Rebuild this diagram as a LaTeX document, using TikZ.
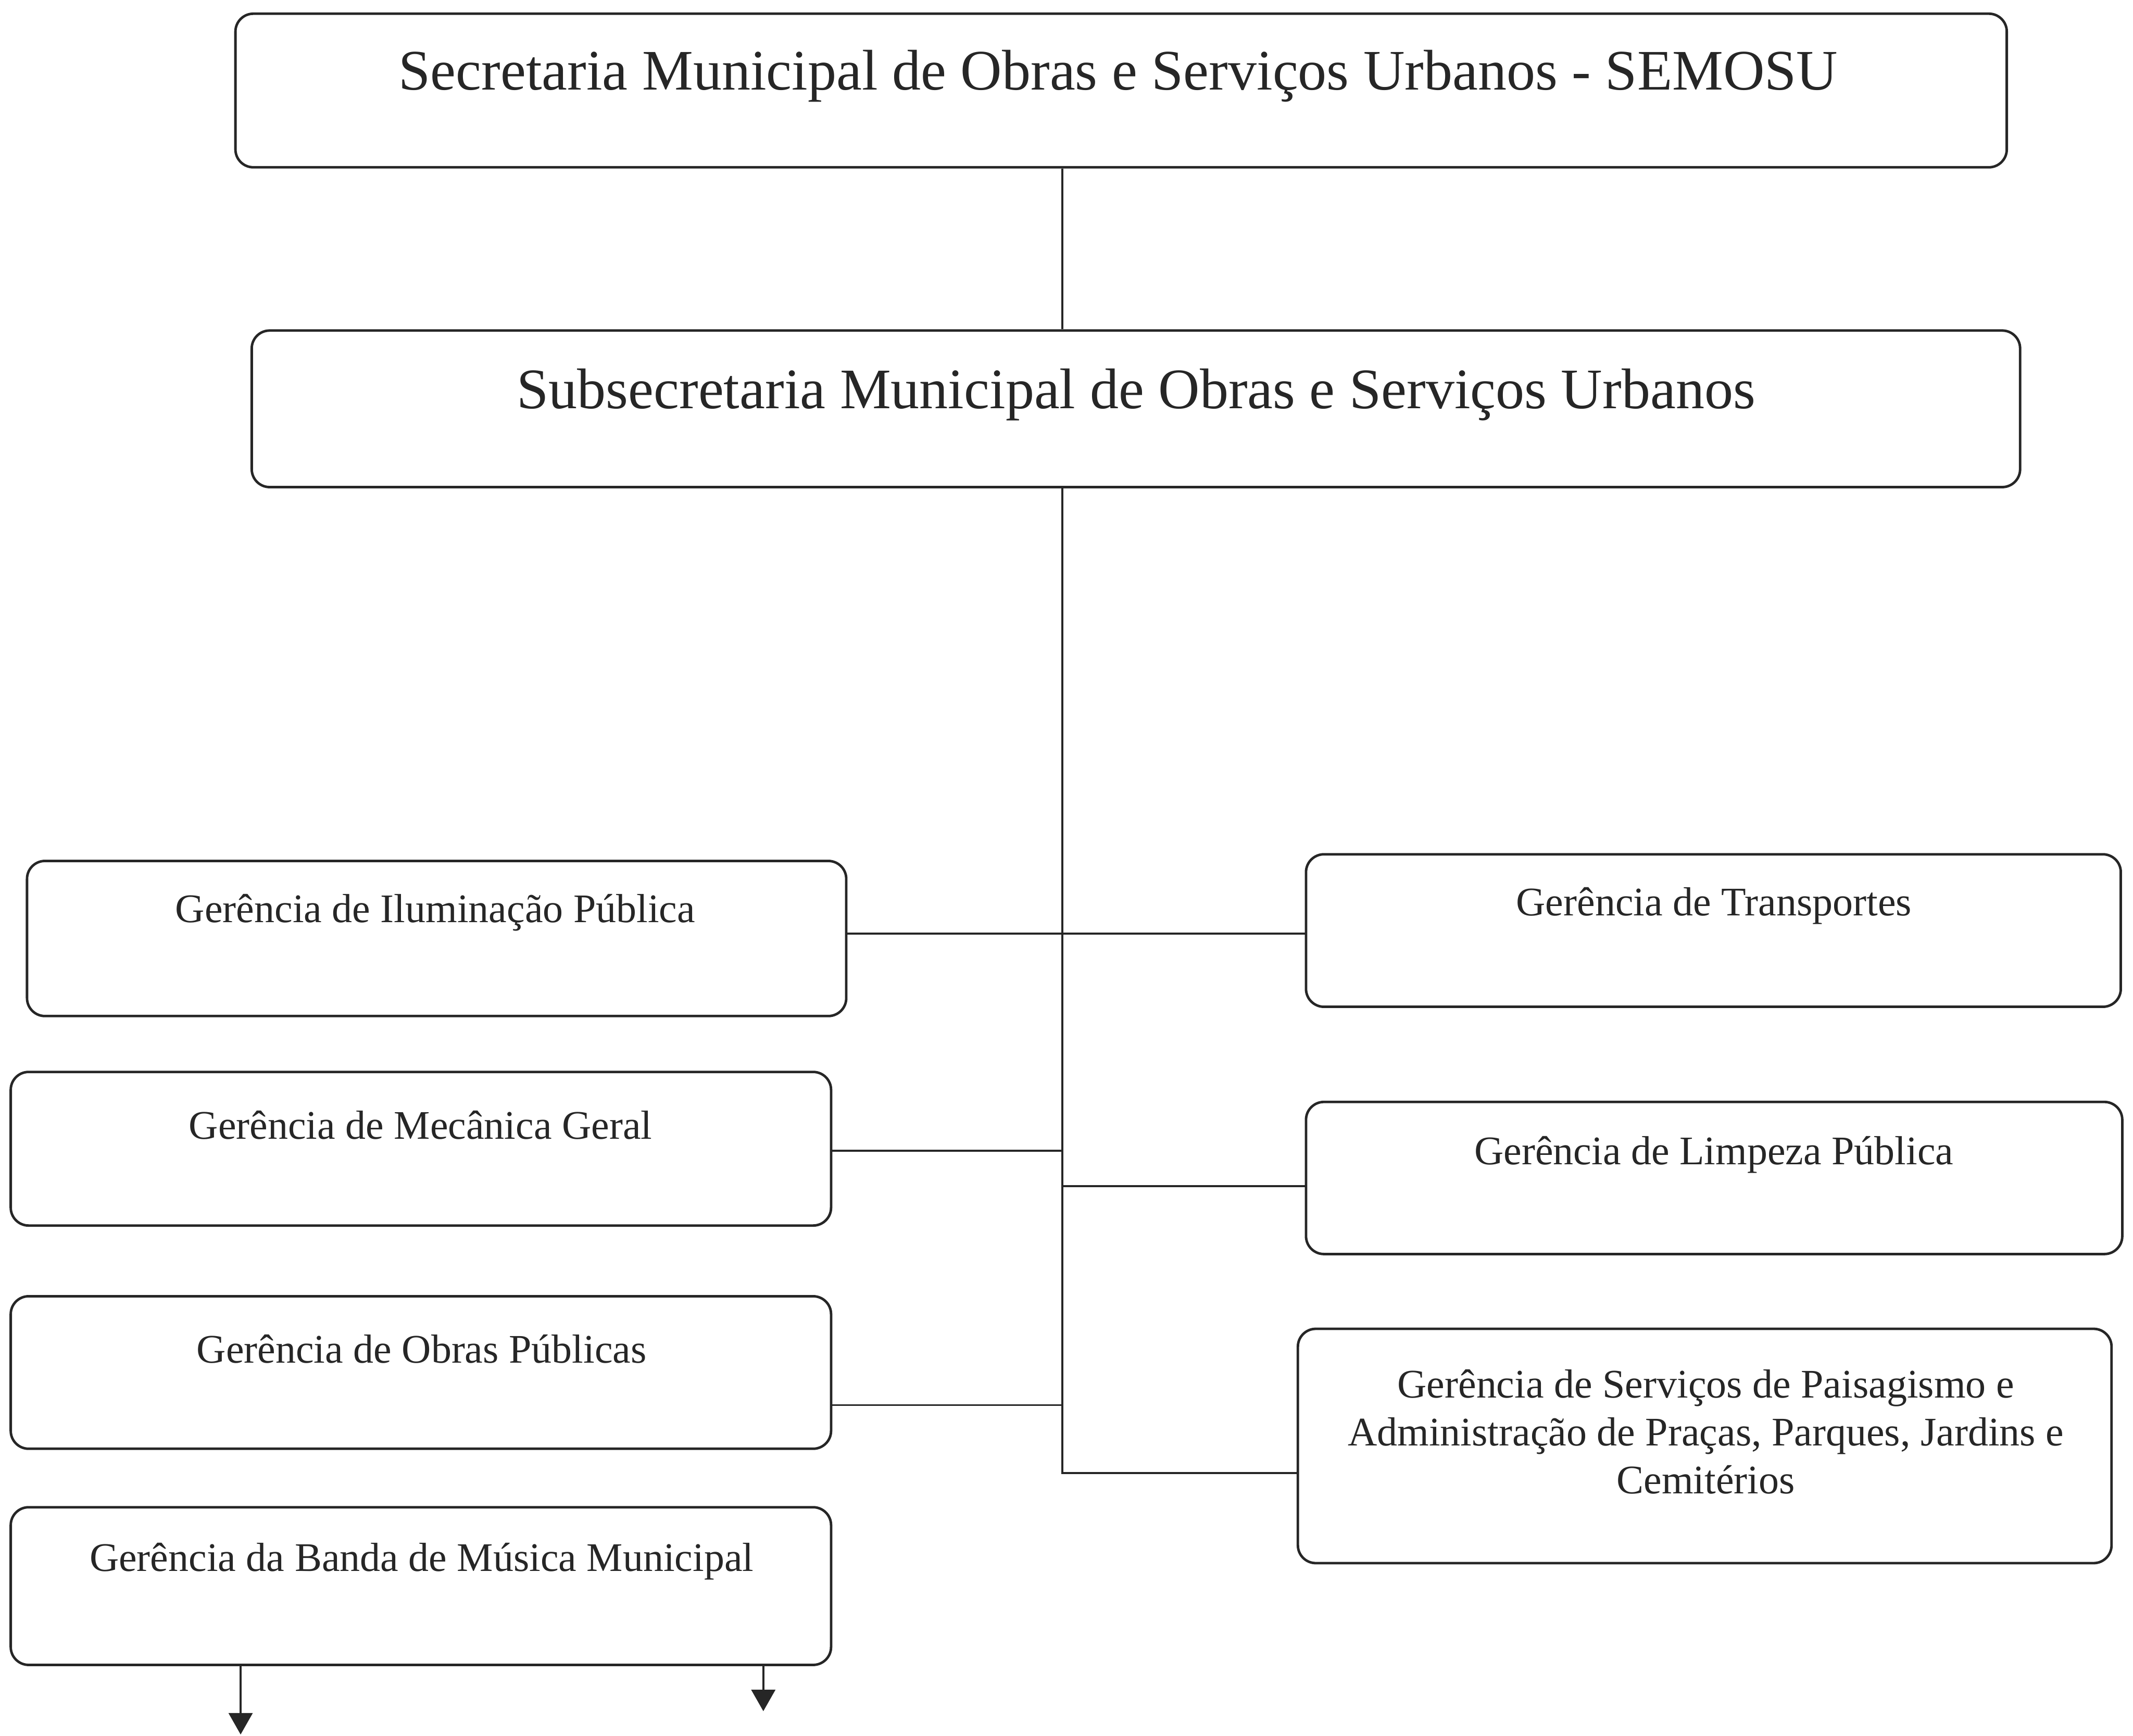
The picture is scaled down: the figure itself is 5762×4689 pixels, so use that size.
\documentclass[tikz,border=0pt]{standalone}
\usepackage{fontspec}
\setmainfont{Liberation Serif}
\usetikzlibrary{fit,arrows.meta}
\begin{document}
\begin{tikzpicture}[x=0.005442cm,y=-0.005442cm,
  orgbox/.style={draw=black!85,line width=1.05pt,rounded corners=7.5pt,inner sep=0pt},
  conn/.style={draw=black!85,line width=0.85pt},
  bigtxt/.style={font=\fontsize{24}{28}\selectfont,text=black!85,inner sep=0pt},
  smalltxt/.style={font=\fontsize{17}{20}\selectfont,text=black!85,inner sep=0pt,align=center},
  downarrow/.style={conn,-{Triangle[width=10pt,length=9pt]}}]
\useasboundingbox (0,0) rectangle (5762,4689);

% boxes
\node[orgbox,fit={(636,37) (5421,452)}] (sec) {};
\node[orgbox,fit={(680,893) (5457,1316)}] (sub) {};
\node[orgbox,fit={(73,2326) (2286,2745)}] (ilum) {};
\node[orgbox,fit={(29,2896) (2245,3311)}] (mec) {};
\node[orgbox,fit={(29,3502) (2245,3914)}] (obras) {};
\node[orgbox,fit={(29,4072) (2245,4498)}] (banda) {};
\node[orgbox,fit={(3528,2308) (5729,2720)}] (transp) {};
\node[orgbox,fit={(3528,2977) (5733,3388)}] (limp) {};
\node[orgbox,fit={(3506,3590) (5704,4223)}] (paisag) {};

% labels
\node[bigtxt] (tsec) at (3021,205) {Secretaria Municipal de Obras e Serviços Urbanos - SEMOSU};
\node[bigtxt] (tsub) at (3069,1067) {Subsecretaria Municipal de Obras e Serviços Urbanos};
\node[smalltxt] (tilum) at (1176,2466) {Gerência de Iluminação Pública};
\node[smalltxt] (tmec) at (1136,3040) {Gerência de Mecânica Geral};
\node[smalltxt] (tobras) at (1139,3645) {Gerência de Obras Públicas};
\node[smalltxt] (tbanda) at (1139,4218) {Gerência da Banda de Música Municipal};
\node[smalltxt] (ttransp) at (4630,2447) {Gerência de Transportes};
\node[smalltxt] (tlimp) at (4630,3119) {Gerência de Limpeza Pública};
\node[smalltxt] (tpaisag) at (4608,3868) {Gerência de Serviços de Paisagismo e\\Administração de Praças, Parques, Jardins e\\Cemitérios};

% junctions on the vertical spine
\coordinate (j1) at (2870,2522);
\coordinate (j2) at (2870,3109);
\coordinate (j3) at (2870,3205);
\coordinate (j5) at (2870,3796);
\coordinate (j4) at (2870,3980);
\coordinate (a1) at (650,4686);
\coordinate (a2) at (2062,4623);

% connectors
\draw[conn] (sec.south -| j1) -- (sub.north -| j1);
\draw[conn] (sub.south -| j4) -- (j4) -- (paisag.west |- j4);
\draw[conn] (ilum.east |- j1) -- (transp.west |- j1);
\draw[conn] (mec.east |- j2) -- (j2);
\draw[conn] (j3) -- (limp.west |- j3);
\draw[conn] (obras.east |- j5) -- (j5);
\draw[downarrow] (banda.south -| a1) -- (a1);
\draw[downarrow] (banda.south -| a2) -- (a2);
\end{tikzpicture}
\end{document}
